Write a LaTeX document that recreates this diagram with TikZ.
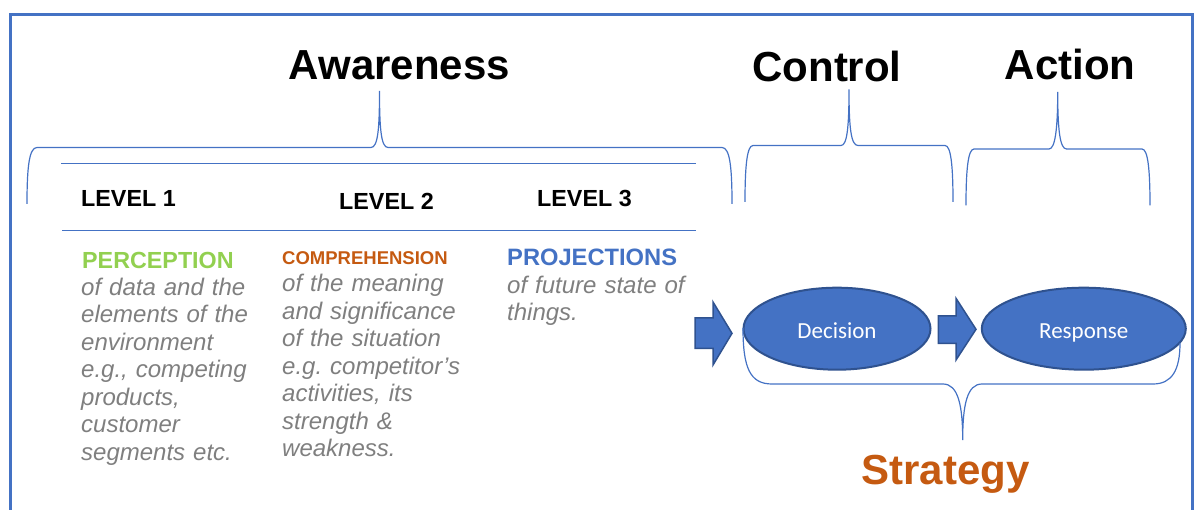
\documentclass[tikz,border=0pt]{standalone}
\usepackage{fontspec}
\setmainfont{Liberation Sans}
\newfontfamily\calibrifont{Carlito}
\usetikzlibrary{shapes.geometric}
\definecolor{accentblue}{HTML}{4472C4}
\definecolor{darkblue}{HTML}{2F528F}
\definecolor{percgreen}{HTML}{92D050}
\definecolor{comporange}{HTML}{C55A11}
\definecolor{bodygrey}{HTML}{7F7F7F}
\frenchspacing
\begin{document}
\begin{tikzpicture}[x=1pt,y=-1pt,
  bracepath/.style={accentblue, line width=1.2pt},
  rule/.style={accentblue, line width=1pt},
  title/.style={font=\bfseries\fontsize{42}{48}\selectfont, inner sep=0pt, anchor=base},
  levellabel/.style={font=\bfseries\fontsize{23.3}{27}\selectfont, inner sep=0pt, anchor=base west},
  colhead/.style={inner sep=0pt, anchor=base west},
  colbody/.style={inner sep=0pt, anchor=base west, text width=220pt, align=left,
    text=bodygrey, font=\itshape\fontsize{24}{27.5}\selectfont},
  blockarrow/.style={fill=accentblue, draw=darkblue, line width=1.5pt, line join=miter},
  oval/.style={ellipse, fill=accentblue, draw=darkblue, line width=2pt, text=white,
    inner sep=0pt, text height=19.2pt, text depth=0pt,
    font=\calibrifont\fontsize{23}{27}\selectfont},
]
\useasboundingbox (0,0) rectangle (1195,510);
\clip (0,0) rectangle (1195,510);

% frame, open at the bottom edge
\draw[accentblue, line width=3.5pt] (10.3,530) -- (10.3,14.7) -- (1192.5,14.7) -- (1192.5,530);

% headings
\node[title] (aware) at (399.5,80) {Awareness};
\node[title] (control) at (827,82) {Control};
\node[title] (action) at (1070,80) {Action};
\node[title, text=comporange] (strategy) at (945.5,485) {Strategy};

% curly braces under the headings
\draw[bracepath] (27,204) .. controls (27,168) and (29,147.5) .. (37,147.5)
  -- (371,147.5) .. controls (378,147.5) and (379.5,128) .. (379.5,91)
  .. controls (379.5,128) and (381,147.5) .. (388,147.5)
  -- (722,147.5) .. controls (730,147.5) and (732,168) .. (732,204);
\draw[bracepath] (745,202) .. controls (745,166) and (747,145.5) .. (753,145.5)
  -- (841,145.5) .. controls (847,145.5) and (849,128) .. (849,89.5)
  .. controls (849,128) and (851,145.5) .. (858,145.5)
  -- (945,145.5) .. controls (951,145.5) and (953,166) .. (953,202);
\draw[bracepath] (966,205.5) .. controls (966,170) and (968,149) .. (974,149)
  -- (1049,149) .. controls (1055,149) and (1057.7,130) .. (1057.7,92)
  .. controls (1057.7,130) and (1060,149) .. (1066.5,149)
  -- (1142,149) .. controls (1148,149) and (1150,170) .. (1150,205.5);

% table rules
\draw[rule] (61,164) -- (696,164);
\draw[rule] (62,231) -- (696,231);

% level labels
\node[levellabel] (lv1) at (81,206.7) {LEVEL 1};
\node[levellabel] (lv2) at (339,209.5) {LEVEL 2};
\node[levellabel] (lv3) at (537,206.7) {LEVEL 3};

% column contents
\node[colhead, text=percgreen, font=\bfseries\fontsize{23.3}{27}\selectfont] (perc) at (82,268.5) {PERCEPTION};
\node[colbody] (percbody) at (81,295.5) {of data and the\\elements of the\\environment\\e.g., competing\\products,\\customer\\segments etc.};

\node[colhead, text=comporange, font=\bfseries\fontsize{18.5}{22}\selectfont] (comp) at (282,265) {COMPREHENSION};
\node[colbody] (compbody) at (282,291.7) {of the meaning\\and significance\\of the situation\\e.g. competitor’s\\activities, its\\strength \&\\weakness.};

\node[colhead, text=accentblue, font=\bfseries\fontsize{23.7}{27}\selectfont] (proj) at (507,266) {PROJECTIONS};
\node[colbody] (projbody) at (507,293.3) {of future state of\\things.};

% decision and response
\node[oval, minimum width=187pt, minimum height=82pt] (decision) at (837,328.7) {Decision};
\node[oval, minimum width=204pt, minimum height=82pt] (response) at (1083.8,328.7) {Response};

% block arrows
\draw[blockarrow] (695,318) -- (713,318) -- (713,302) -- (732,333.3) -- (713,365) -- (713,348.3) -- (695,348.3) -- cycle;
\draw[blockarrow] (938.3,316) -- (956,316) -- (956,298.3) -- (976,329.3) -- (956,360) -- (956,343.3) -- (938.3,343.3) -- cycle;

% brace beneath the two ovals
\draw[bracepath] (743,328) .. controls (743,368) and (750,384) .. (772,384)
  -- (943,384) .. controls (958,384) and (962.7,405) .. (962.7,440)
  .. controls (962.7,405) and (967,384) .. (982,384)
  -- (1153,384) .. controls (1172,384) and (1180,370) .. (1180,343);
\end{tikzpicture}
\end{document}
